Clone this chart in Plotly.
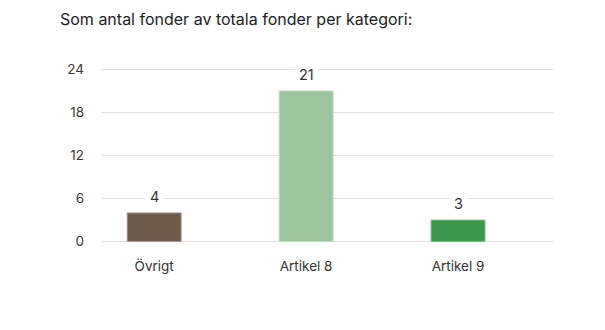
import plotly.graph_objects as go

categories = ["Övrigt", "Artikel 8", "Artikel 9"]
values = [4, 21, 3]
colors = ["#6f5b4c", "#9cc49f", "#3a974a"]
line_colors = ["#a89a90", "#c2dcc4", "#7cbf86"]
y_ticks = [0, 6, 12, 18, 24]
title_text = "Som antal fonder av totala fonder per kategori:"

FONT = "Inter, Roboto, sans-serif"
TXT = "#333333"

fig = go.Figure()
fig.add_trace(go.Bar(
    x=categories,
    y=values,
    marker=dict(color=colors, line=dict(color=line_colors, width=1)),
    width=0.355,
    hoverinfo="skip",
))

for c, v in zip(categories, values):
    fig.add_annotation(
        x=c, y=v, text=str(v), showarrow=False, yanchor="bottom", yshift=3,
        bgcolor="white", borderpad=4,
        font=dict(family=FONT, size=14.5, color=TXT),
    )

fig.update_layout(
    width=605, height=330,
    margin=dict(l=101, r=52, t=68, b=87),
    paper_bgcolor="white", plot_bgcolor="white",
    showlegend=False,
    title=dict(text=title_text, x=60 / 605, xanchor="left", y=1 - 19 / 330, yanchor="middle",
               font=dict(family=FONT, size=16, color="#222222")),
    xaxis=dict(
        type="category", range=[-0.35, 2.625], showgrid=False, zeroline=False,
        showline=False, ticks="", tickfont=dict(family=FONT, size=13.5, color=TXT),
        ticklabelstandoff=13,
    ),
    yaxis=dict(
        range=[-0.2, 24.2], tickvals=y_ticks, showgrid=True, gridcolor="#e0e0e0", gridwidth=1,
        zeroline=False, showline=False, ticks="",
        tickfont=dict(family=FONT, size=13.5, color="#3a3a3a"), ticklabelstandoff=16,
    ),
)

fig.write_html("out.html")
